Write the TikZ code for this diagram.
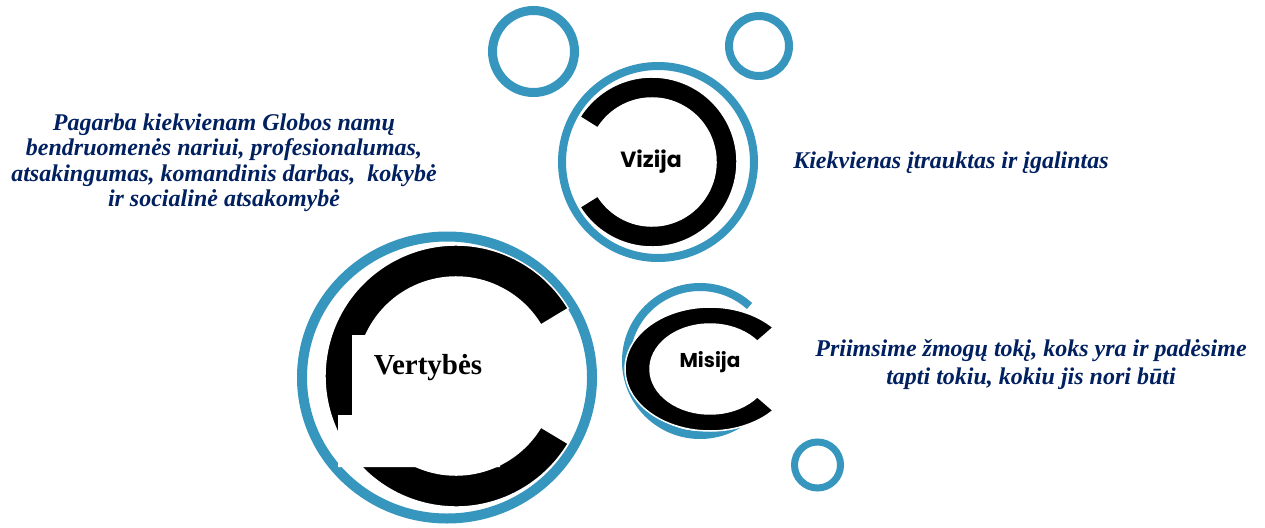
\documentclass[tikz,border=0pt]{standalone}
\usepackage{fontspec}
\setmainfont{Liberation Serif}
\newfontfamily\roundfont{Poppins}
\usetikzlibrary{shapes,positioning}
\definecolor{ringblue}{RGB}{55,150,190}
\definecolor{navytext}{RGB}{0,32,96}
\tikzset{
  bluering/.style = {draw=ringblue, line width=9pt, inner sep=0pt},
  blackarc/.style = {fill=black, draw=white, line width=1.5pt},
  motto/.style    = {font=\fontsize{24}{25.5}\selectfont\bfseries\itshape, text=navytext, align=center},
  title/.style    = {font=\fontsize{21}{24}\selectfont\roundfont\bfseries}
}

\begin{document}
\begin{tikzpicture}[x=1pt,y=1pt]
\useasboundingbox[fill=white] (0,0) rectangle (1265,-527);

\node[bluering, circle, minimum size=82pt] (b1) at (533.5,-51.5) {};
\node[bluering, circle, minimum size=60pt, line width=8pt] (b2) at (759,-46) {};
\node[bluering, circle, minimum size=46pt, line width=7pt] (b3) at (817.5,-465) {};

\node[bluering, circle, minimum size=192pt, line width=8pt] (vision) at (658,-162) {};
\fill[blackarc, shift={(652,-162)}] (-148:85) arc[start angle=-148, end angle=148, radius=85]
  -- (148:64) arc[start angle=148, end angle=-148, radius=64] -- cycle;
\node[title, font=\fontsize{22}{24}\selectfont\roundfont\bfseries] (visionLabel) at (651,-162) {Vizija};

\draw[bluering, line width=8pt, shift={(700,-361)}] (48:74) arc[start angle=48, end angle=305, radius=74];
\fill[blackarc, shift={(710,-369)}] (42:85 and 62) arc[start angle=42, end angle=318, x radius=85, y radius=62]
  -- (322:60 and 45) arc[start angle=322, end angle=38, x radius=60, y radius=45] -- cycle;
\node[title, font=\fontsize{20}{24}\selectfont\roundfont\bfseries] (missionLabel) at (710,-362) {Misija};

\node[bluering, ellipse, minimum width=290pt, minimum height=282pt, line width=10pt] (values) at (447,-377.5) {};
\fill[blackarc, shift={(456,-376)}] (31:131) arc[start angle=31, end angle=329, radius=131]
  -- (329:99) arc[start angle=329, end angle=31, radius=99] -- cycle;
\fill[white] (352,-335) -- (500,-335) -- (500,-467) -- (338,-467) -- (338,-415) -- (352,-415) -- cycle;
\node[font=\fontsize{29}{33}\selectfont\bfseries] (valuesLabel) at (428,-368) {Vertybės};

\node[motto] (valuesText) at (224,-163) {Pagarba kiekvienam Globos namų\\bendruomenės nariui, profesionalumas,\\atsakingumas, komandinis darbas,~ kokybė\\ir socialinė atsakomybė};
\node[motto] (visionText) at (951,-163) {Kiekvienas įtrauktas ir įgalintas};
\node[motto, font=\fontsize{24}{28}\selectfont\bfseries\itshape] (missionText) at (1031,-365) {Priimsime žmogų tokį, koks yra ir padėsime\\tapti tokiu, kokiu jis nori būti};
\end{tikzpicture}
\end{document}
